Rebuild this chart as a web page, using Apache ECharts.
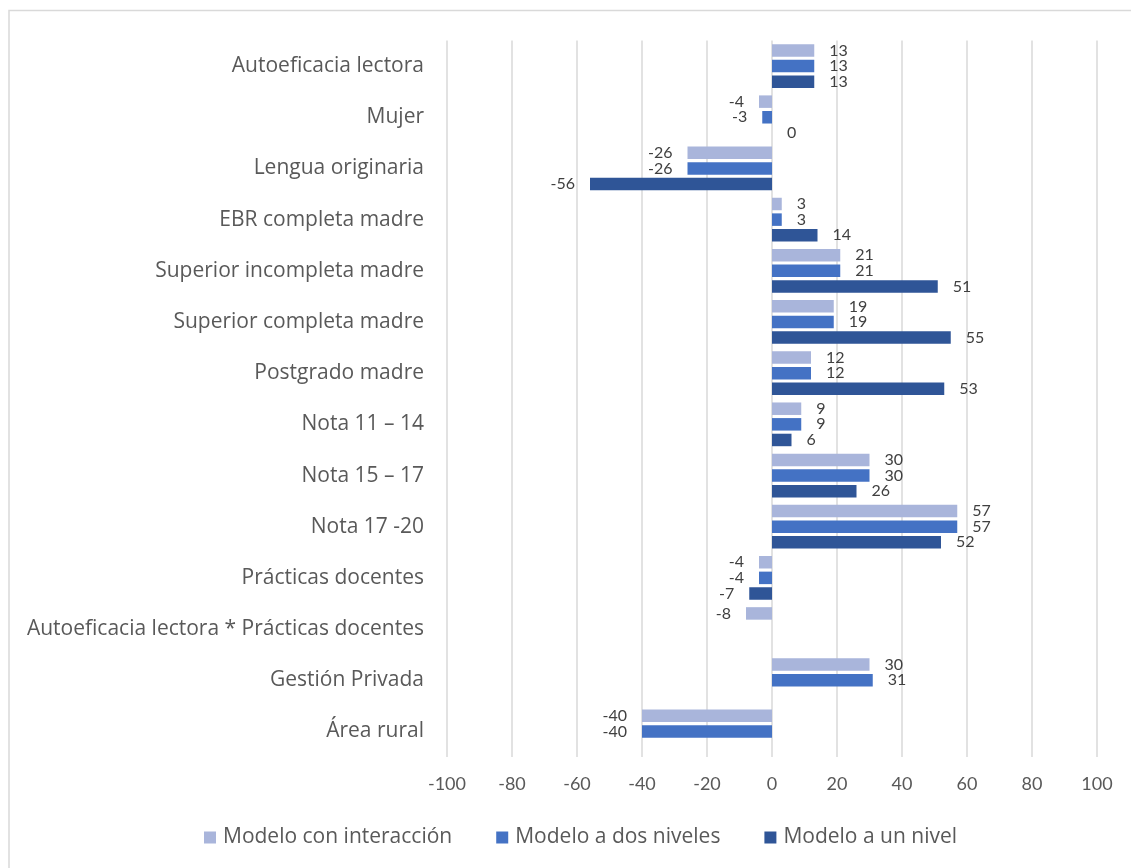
<!DOCTYPE html>
<html>
<head>
<meta charset="utf-8">
<script src="https://cdn.jsdelivr.net/npm/echarts@6/dist/echarts.min.js"></script>
<style>
  html, body { margin: 0; padding: 0; background: #ffffff; }
  #chart { width: 1131px; height: 868px; }
</style>
</head>
<body>
<div id="chart"></div>
<script>
// Categories, listed top to bottom
const categories = [
  'Autoeficacia lectora',
  'Mujer',
  'Lengua originaria',
  'EBR completa madre',
  'Superior incompleta madre',
  'Superior completa madre',
  'Postgrado madre',
  'Nota 11 – 14',
  'Nota 15 – 17',
  'Nota 17 -20',
  'Prácticas docentes',
  'Autoeficacia lectora * Prácticas docentes',
  'Gestión Privada',
  'Área rural'
];

const seriesNames = ['Modelo con interacción', 'Modelo a dos niveles', 'Modelo a un nivel'];

const modeloInteraccion = [13, -4, -26, 3, 21, 19, 12, 9, 30, 57, -4, -8, 30, -40];
const modeloDosNiveles  = [13, -3, -26, 3, 21, 19, 12, 9, 30, 57, -4, null, 31, -40];
const modeloUnNivel     = [13, 0, -56, 14, 51, 55, 53, 6, 26, 52, -7, null, null, null];

const xTicks = { min: -100, max: 100, interval: 20 };

const colors = ['#A9B5DB', '#4472C4', '#2F5597'];
const labelColor = '#404040';
const axisTextColor = '#595959';

function toItems(values) {
  return values.map(v => v === null ? null : {
    value: v,
    label: { position: v < 0 ? 'left' : 'right' }
  });
}

function makeSeries(name, values, color) {
  return {
    name: name,
    type: 'bar',
    data: toItems(values),
    barWidth: 12.5,
    barGap: '25%',
    itemStyle: { color: color },
    label: {
      show: true,
      distance: 15,
      fontFamily: 'Lato',
      fontSize: 16,
      color: labelColor
    }
  };
}

const chart = echarts.init(document.getElementById('chart'), null, { renderer: 'canvas' });

chart.setOption({
  animation: false,
  backgroundColor: '#ffffff',
  color: colors,
  graphic: [{
    type: 'rect',
    shape: { x: 9, y: 10.5, width: 1140, height: 880 },
    style: { fill: null, stroke: '#D9D9D9', lineWidth: 1.5 },
    silent: true
  }],
  grid: { left: 447, right: 34, top: 40.5, bottom: 111, containLabel: false },
  legend: {
    bottom: 15,
    left: 199,
    icon: 'rect',
    itemWidth: 12,
    itemHeight: 12,
    itemGap: 44,
    textStyle: { fontFamily: 'Open Sans', fontSize: 21, color: axisTextColor, padding: [0, 0, 0, 2] },
    data: seriesNames
  },
  xAxis: {
    type: 'value',
    min: xTicks.min,
    max: xTicks.max,
    interval: xTicks.interval,
    axisLine: { show: false },
    axisTick: { show: false },
    axisLabel: { fontFamily: 'Lato', fontSize: 18, color: axisTextColor, margin: 18 },
    splitLine: { show: true, lineStyle: { color: '#D9D9D9', width: 1.5 } }
  },
  yAxis: {
    type: 'category',
    data: categories,
    inverse: true,
    axisLine: { show: false },
    axisTick: { show: false },
    axisLabel: { fontFamily: 'Open Sans', fontSize: 21, color: axisTextColor, margin: 23, lineHeight: 26, verticalAlign: 'middle' }
  },
  series: [
    makeSeries(seriesNames[0], modeloInteraccion, colors[0]),
    makeSeries(seriesNames[1], modeloDosNiveles, colors[1]),
    makeSeries(seriesNames[2], modeloUnNivel, colors[2])
  ]
});
</script>
</body>
</html>
